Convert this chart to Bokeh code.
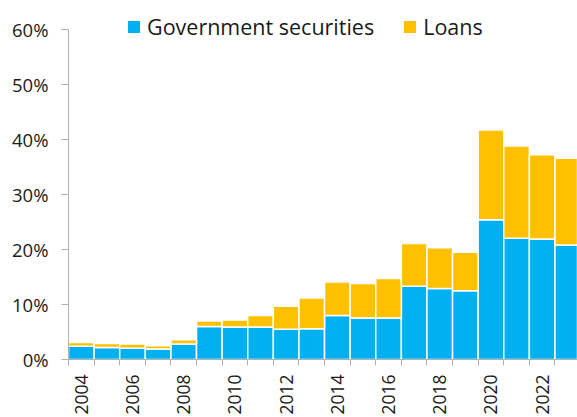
from bokeh.plotting import figure
from bokeh.models import ColumnDataSource, Range1d, FixedTicker, PrintfTickFormatter, Legend, LegendItem
from bokeh.embed import file_html
from bokeh.resources import INLINE
import math

years = list(range(2004, 2024))
gov = [2.4, 2.2, 2.05, 1.9, 2.8, 6.0, 5.9, 5.9, 5.5, 5.6, 8.0, 7.55, 7.55, 13.3, 12.9, 12.5, 25.4, 22.05, 21.9, 20.8]
total = [3.1, 2.9, 2.8, 2.5, 3.6, 7.0, 7.2, 8.0, 9.7, 11.2, 14.1, 13.8, 14.7, 21.1, 20.3, 19.5, 41.7, 38.8, 37.2, 36.6]
loans = [round(t - g, 2) for t, g in zip(total, gov)]
y_ticks = [0, 10, 20, 30, 40, 50, 60]
label_years = [y for y in years if y % 2 == 0]

FONT = "Open Sans"
TXT = "#1a1a1a"
AX = "#b0b0b0"

x = [i + 0.5 for i in range(len(years))]
src = ColumnDataSource(dict(x=x, gov=gov, loans=loans))

p = figure(width=577, height=417, output_backend="svg", toolbar_location=None,
           x_range=Range1d(0, 19.88), y_range=Range1d(0, 65.25),
           min_border_left=68, min_border_right=0, min_border_top=0, min_border_bottom=57)
p.outline_line_color = None
p.xgrid.visible = False
p.ygrid.visible = False

r = p.vbar_stack(["gov", "loans"], x="x", width=1.0, source=src,
                 color=["#00B0F0", "#FFC000"], line_color="white", line_width=1.5)

# y axis
p.yaxis.ticker = FixedTicker(ticks=y_ticks)
p.yaxis.bounds = (0, 60)
p.yaxis.formatter = PrintfTickFormatter(format="%d%%")
p.yaxis.axis_line_color = AX
p.yaxis.major_tick_line_color = AX
p.yaxis.major_tick_out = 7
p.yaxis.major_tick_in = 0
p.yaxis.minor_tick_line_color = None
p.yaxis.major_label_text_font = FONT
p.yaxis.major_label_text_font_size = "18.5px"
p.yaxis.major_label_text_color = TXT
p.yaxis.major_label_standoff = 13

# x axis
centers = [years.index(y) + 0.5 for y in label_years]
p.xaxis.ticker = FixedTicker(ticks=centers, minor_ticks=list(range(len(years) + 1)))
p.xaxis.major_label_overrides = {c: str(y) for c, y in zip(centers, label_years)}
p.xaxis.major_label_orientation = math.pi / 2
p.xaxis.axis_line_color = AX
p.xaxis.major_tick_line_color = None
p.xaxis.minor_tick_line_color = AX
p.xaxis.minor_tick_out = 6
p.xaxis.minor_tick_in = 0
p.xaxis.major_label_text_font = FONT
p.xaxis.major_label_text_font_size = "17.5px"
p.xaxis.major_label_text_color = TXT
p.xaxis.major_label_standoff = 9

legend = Legend(items=[LegendItem(label="Government securities", renderers=[r[0]]),
                       LegendItem(label="Loans", renderers=[r[1]])],
                orientation="horizontal", location=(57, 318),
                background_fill_alpha=0, border_line_color=None,
                label_text_font=FONT, label_text_font_size="21.5px", label_text_color=TXT,
                glyph_width=17, glyph_height=17, spacing=27, padding=0, margin=0,
                label_standoff=5)
p.add_layout(legend, "center")

open("out.html", "w").write(file_html(p, INLINE))
